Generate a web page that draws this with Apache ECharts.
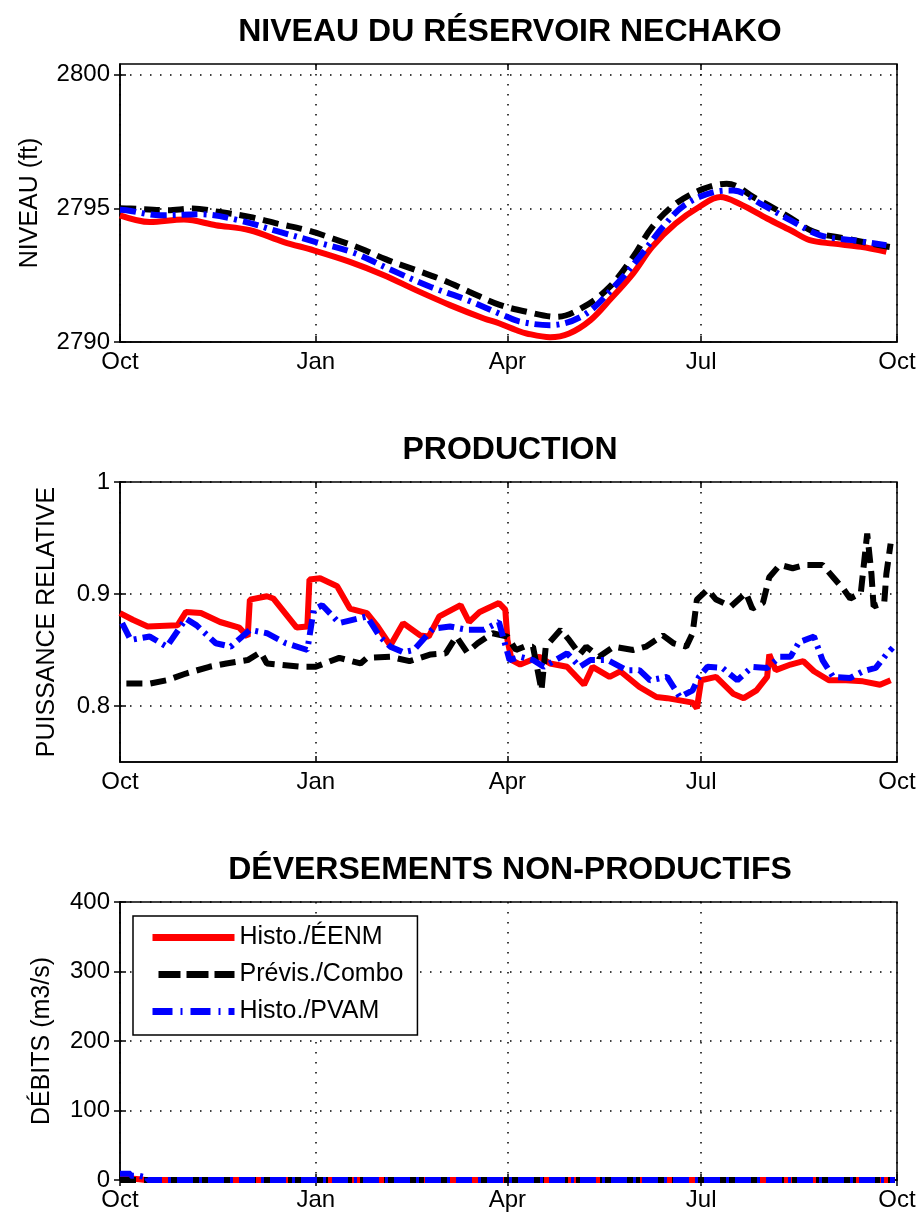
<!DOCTYPE html>
<html>
<head>
<meta charset="utf-8">
<script src="https://cdn.jsdelivr.net/npm/echarts@6/dist/echarts.min.js"></script>
<style>
  html, body { margin: 0; padding: 0; background: #ffffff; }
  #chart { width: 922px; height: 1220px; }
</style>
</head>
<body>
<div id="chart"></div>
<script>
// Hydrological year, days counted from 1 October
const monthTickDays = [0, 92, 182, 273, 365];
const monthTickLabels = ['Oct', 'Jan', 'Apr', 'Jul', 'Oct'];

const seriesNames = ['Histo./ÉENM', 'Prévis./Combo', 'Histo./PVAM'];
const panelTitles = ['NIVEAU DU RÉSERVOIR NECHAKO', 'PRODUCTION', 'DÉVERSEMENTS NON-PRODUCTIFS'];
const axisNames = ['NIVEAU (ft)', 'PUISSANCE RELATIVE', 'DÉBITS (m3/s)'];

const levelTicks = [2790, 2795, 2800];
const prodTicks = [0.8, 0.9, 1];
const spillTicks = [0, 100, 200, 300, 400];

// Reservoir level (ft)
const levelRedDays = [0, 14, 30, 45, 61, 77, 91, 108, 124, 139, 155, 171, 178, 186, 191, 202, 211, 221, 230, 241, 250, 261, 272, 282, 291, 304, 315, 324, 335, 348, 360];
const levelRed = [2794.74, 2794.49, 2794.58, 2794.37, 2794.18, 2793.74, 2793.43, 2793.00, 2792.50, 2791.94, 2791.38, 2790.88, 2790.70, 2790.45, 2790.32, 2790.18, 2790.32, 2790.82, 2791.57, 2792.56, 2793.56, 2794.43, 2795.05, 2795.42, 2795.17, 2794.62, 2794.18, 2793.81, 2793.68, 2793.56, 2793.37];

const levelBlackDays = [0, 5, 22, 34, 47, 61, 74, 88, 100, 113, 125, 139, 152, 164, 178, 191, 205, 218, 230, 241, 250, 261, 274, 285, 299, 313, 326, 341, 357, 362];
const levelBlack = [2795.00, 2794.99, 2794.93, 2794.99, 2794.86, 2794.68, 2794.43, 2794.18, 2793.87, 2793.50, 2793.09, 2792.69, 2792.31, 2791.88, 2791.40, 2791.13, 2790.94, 2791.32, 2792.06, 2793.18, 2794.30, 2795.17, 2795.73, 2795.92, 2795.36, 2794.74, 2794.12, 2793.87, 2793.62, 2793.55];

const levelBlueDays = [0, 3, 19, 38, 56, 75, 92, 110, 127, 146, 163, 181, 188, 202, 218, 232, 244, 255, 265, 279, 288, 301, 315, 329, 344, 360];
const levelBlue = [2794.95, 2794.93, 2794.74, 2794.78, 2794.55, 2794.12, 2793.74, 2793.33, 2792.71, 2792.06, 2791.57, 2790.97, 2790.76, 2790.63, 2791.01, 2792.06, 2793.18, 2794.30, 2795.11, 2795.61, 2795.67, 2795.17, 2794.55, 2793.99, 2793.81, 2793.62];

// Relative power output
const prodRedDays = [0, 6, 13, 27, 31, 38, 47, 56, 60, 61, 69, 72, 83, 88, 89, 94, 102, 108, 116, 121, 127, 133, 141, 145, 150, 160, 164, 169, 178, 181, 182, 184, 188, 197, 202, 210, 218, 222, 230, 235, 244, 252, 257, 263, 269, 271, 273, 280, 288, 293, 299, 304, 305, 308, 315, 321, 326, 333, 341, 349, 357, 362];
const prodRed = [0.883, 0.877, 0.871, 0.872, 0.884, 0.883, 0.875, 0.870, 0.862, 0.895, 0.898, 0.896, 0.870, 0.871, 0.913, 0.914, 0.907, 0.887, 0.883, 0.871, 0.854, 0.874, 0.863, 0.862, 0.880, 0.890, 0.875, 0.884, 0.892, 0.886, 0.859, 0.841, 0.837, 0.844, 0.838, 0.835, 0.819, 0.835, 0.826, 0.831, 0.817, 0.808, 0.807, 0.805, 0.803, 0.798, 0.823, 0.826, 0.811, 0.807, 0.814, 0.826, 0.846, 0.832, 0.837, 0.840, 0.831, 0.823, 0.823, 0.822, 0.819, 0.823];

const prodBlackDays = [3, 14, 22, 31, 42, 50, 60, 66, 69, 85, 92, 103, 113, 116, 127, 136, 146, 153, 158, 163, 168, 175, 182, 186, 190, 194, 198, 200, 207, 211, 216, 219, 225, 232, 241, 247, 255, 260, 266, 269, 271, 276, 280, 287, 294, 297, 302, 305, 310, 316, 322, 330, 335, 340, 343, 348, 351, 353, 354, 359, 360, 362];
const prodBlack = [0.820, 0.820, 0.823, 0.829, 0.835, 0.838, 0.841, 0.848, 0.838, 0.835, 0.835, 0.843, 0.838, 0.843, 0.844, 0.840, 0.846, 0.847, 0.862, 0.848, 0.856, 0.865, 0.862, 0.850, 0.853, 0.853, 0.814, 0.853, 0.868, 0.859, 0.846, 0.853, 0.844, 0.853, 0.850, 0.853, 0.863, 0.856, 0.853, 0.865, 0.895, 0.904, 0.895, 0.889, 0.901, 0.887, 0.892, 0.915, 0.926, 0.923, 0.926, 0.926, 0.915, 0.904, 0.896, 0.901, 0.954, 0.918, 0.889, 0.892, 0.918, 0.945];

const prodBlueDays = [1, 5, 14, 22, 31, 36, 45, 52, 61, 69, 78, 88, 91, 95, 103, 116, 122, 127, 133, 138, 147, 155, 163, 171, 178, 183, 188, 194, 199, 210, 216, 221, 229, 238, 244, 249, 257, 263, 269, 272, 276, 283, 290, 297, 304, 310, 315, 319, 326, 330, 335, 343, 349, 355, 360, 363];
const prodBlue = [0.874, 0.859, 0.862, 0.853, 0.878, 0.872, 0.856, 0.853, 0.868, 0.865, 0.856, 0.850, 0.886, 0.890, 0.874, 0.880, 0.862, 0.853, 0.848, 0.850, 0.869, 0.871, 0.868, 0.868, 0.875, 0.841, 0.844, 0.841, 0.835, 0.847, 0.835, 0.841, 0.841, 0.832, 0.832, 0.823, 0.826, 0.808, 0.814, 0.826, 0.835, 0.834, 0.823, 0.835, 0.834, 0.844, 0.844, 0.857, 0.862, 0.841, 0.826, 0.825, 0.831, 0.834, 0.846, 0.852];

// Non-productive spills (m3/s)
const spillDays = [0, 5, 9, 12, 13, 364];
const spillRed = [2, 1, 0, 0, 0, 0];
const spillBlack = [0, 0, 0, 0, 0, 0];
const spillBlue = [9, 6, 4, 4, 0, 0];

const FONT = 'Liberation Sans, Arial, Helvetica, sans-serif';
const colors = ['#ff0000', '#000000', '#0000ff'];
const lineTypes = ['solid', [16, 8], [16, 6, 3, 6]];
const legendLineTypes = ['solid', [22, 6], [20, 8, 2, 8]];
const legendDashOffsets = [0, 22, 0];

const zipPairs = (xs, ys) => xs.map((x, i) => [x, ys[i]]);

const panels = [
  { top: 64, height: 278, yMin: 2790, yMax: 2800.4, yTicks: levelTicks, nameGap: 77, smooth: 0.35,
    data: [zipPairs(levelRedDays, levelRed), zipPairs(levelBlackDays, levelBlack), zipPairs(levelBlueDays, levelBlue)] },
  { top: 482, height: 280, yMin: 0.75, yMax: 1, yTicks: prodTicks, nameGap: 60, smooth: false,
    data: [zipPairs(prodRedDays, prodRed), zipPairs(prodBlackDays, prodBlack), zipPairs(prodBlueDays, prodBlue)] },
  { top: 902, height: 278, yMin: 0, yMax: 400, yTicks: spillTicks, nameGap: 65, smooth: false, step: 'end',
    data: [zipPairs(spillDays, spillRed), zipPairs(spillDays, spillBlack), zipPairs(spillDays, spillBlue)] }
];

const dotted = { color: '#000', width: 1.5, type: [1.5, 8.5] };
const tickStyle = { color: '#000', width: 1.5 };

const grid = [], xAxis = [], yAxis = [], series = [], title = [];

panels.forEach((p, i) => {
  grid.push({ left: 120, right: 25, top: p.top, height: p.height, show: true,
    borderColor: '#000', borderWidth: 1.5, backgroundColor: '#fff' });

  title.push({ text: panelTitles[i], left: 505, textAlign: 'center', top: p.top - 53,
    textStyle: { fontFamily: FONT, fontSize: 32, fontWeight: 'bold', color: '#000' } });

  // bottom x axis with labels and grid lines
  xAxis.push({ type: 'value', gridIndex: i, position: 'bottom', min: 0, max: 365,
    axisLine: { show: true, lineStyle: tickStyle },
    axisTick: { show: true, inside: true, length: 6, lineStyle: tickStyle, customValues: monthTickDays },
    axisLabel: { show: true, customValues: monthTickDays, margin: 8, color: '#000',
      fontFamily: FONT, fontSize: 24,
      formatter: v => monthTickLabels[monthTickDays.indexOf(v)] || '' },
    splitLine: { show: true, lineStyle: dotted } });
  // mirrored ticks along the top edge
  xAxis.push({ type: 'value', gridIndex: i, position: 'top', min: 0, max: 365,
    axisLine: { show: false },
    axisTick: { show: true, inside: true, length: 6, lineStyle: tickStyle, customValues: monthTickDays },
    axisLabel: { show: false }, splitLine: { show: false } });

  yAxis.push({ type: 'value', gridIndex: i, position: 'left', min: p.yMin, max: p.yMax,
    name: axisNames[i], nameLocation: 'middle', nameRotate: 90, nameGap: p.nameGap,
    nameTextStyle: { fontFamily: FONT, fontSize: 25, color: '#000' },
    axisLine: { show: true, lineStyle: tickStyle },
    axisTick: { show: true, inside: true, length: 6, lineStyle: tickStyle, customValues: p.yTicks },
    axisLabel: { show: true, customValues: p.yTicks, margin: 10, color: '#000',
      fontFamily: FONT, fontSize: 24, formatter: v => String(v) },
    splitLine: { show: true, lineStyle: dotted } });
  yAxis.push({ type: 'value', gridIndex: i, position: 'right', min: p.yMin, max: p.yMax,
    axisLine: { show: false },
    axisTick: { show: true, inside: true, length: 6, lineStyle: tickStyle, customValues: p.yTicks },
    axisLabel: { show: false }, splitLine: { show: false } });

  p.data.forEach((d, k) => {
    series.push({ name: seriesNames[k], type: 'line', xAxisIndex: 2 * i, yAxisIndex: 2 * i,
      data: d, symbol: 'none', smooth: p.smooth, step: p.step || false, animation: false,
      lineStyle: { color: colors[k], width: 6, type: lineTypes[k] },
      itemStyle: { color: colors[k] }, z: 2 + k });
  });
});

const chart = echarts.init(document.getElementById('chart'), null, { renderer: 'canvas' });
chart.setOption({
  animation: false,
  backgroundColor: '#fff',
  title, grid, xAxis, yAxis, series,
  legend: {
    data: seriesNames.map((name, k) => ({
      name,
      lineStyle: { color: colors[k], width: 7, type: legendLineTypes[k], dashOffset: legendDashOffsets[k] }
    })),
    orient: 'vertical', left: 133, top: 916,
    padding: [9, 14, 11, 16], itemGap: 12, itemWidth: 82, itemHeight: 12,
    itemStyle: { color: 'rgba(0,0,0,0)', borderWidth: 0, opacity: 0 },
    backgroundColor: '#fff', borderColor: '#000', borderWidth: 1.5,
    textStyle: { fontFamily: FONT, fontSize: 25, color: '#000' },
    selectedMode: false
  }
});
</script>
</body>
</html>
